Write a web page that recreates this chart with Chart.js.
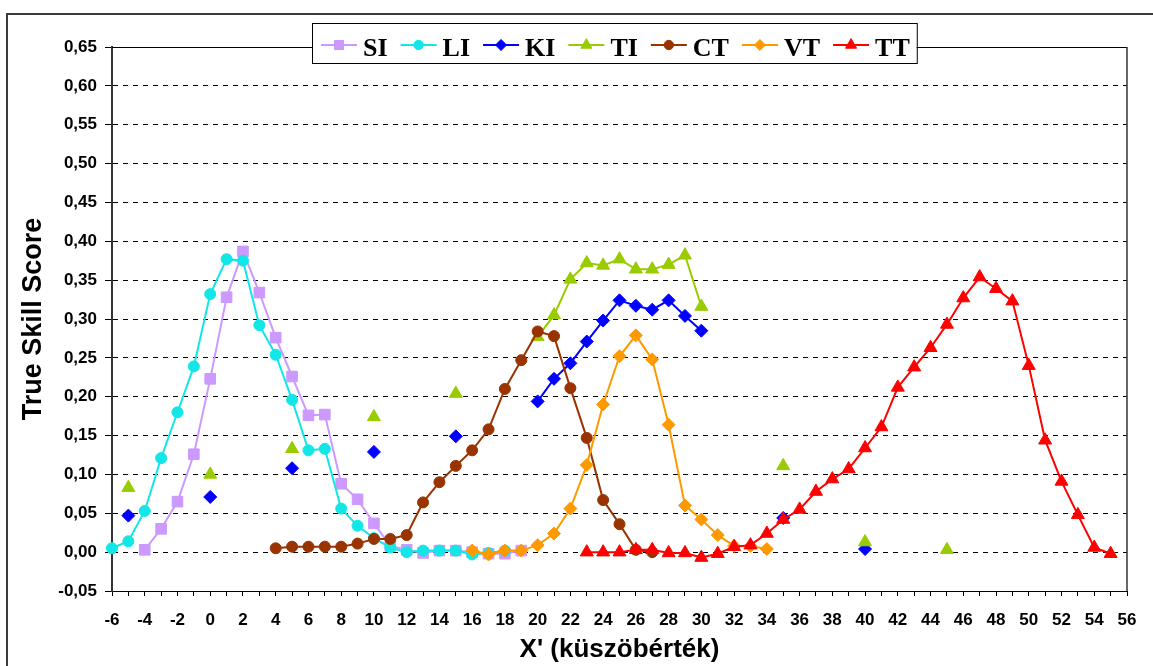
<!DOCTYPE html>
<html>
<head>
<meta charset="utf-8">
<script src="https://cdn.jsdelivr.net/npm/chart.js@4/dist/chart.umd.min.js"></script>
<style>
  html, body { margin:0; padding:0; background:#fff; }
  #wrap { width:1153px; height:666px; position:relative; }
</style>
</head>
<body>
<div id="wrap"><canvas id="c"></canvas></div>
<script>
// x' küszöbérték -> True Skill Score
const siStart = -4;
const siVals = [0.003, 0.030, 0.065, 0.126, 0.223, 0.328, 0.387, 0.334, 0.276, 0.226, 0.176, 0.177,
  0.088, 0.068, 0.037, 0.008, 0.003, -0.001, 0.002, 0.002, 0.000, -0.002, -0.002, 0.002];

const liStart = -6;
const liVals = [0.005, 0.014, 0.053, 0.121, 0.180, 0.239, 0.332, 0.377, 0.375, 0.292, 0.254, 0.196,
  0.131, 0.133, 0.056, 0.034, 0.018, 0.006, 0.000, 0.002, 0.002, 0.002, -0.003, -0.001, 0.002];

const kiX = [-5, 0, 5, 10, 15, 20, 21, 22, 23, 24, 25, 26, 27, 28, 29, 30, 35, 40];
const kiVals = [0.047, 0.071, 0.108, 0.129, 0.149, 0.194, 0.223, 0.243, 0.271, 0.298, 0.324, 0.317,
  0.312, 0.324, 0.304, 0.285, 0.044, 0.004];

const tiX = [-5, 0, 5, 10, 15, 20, 21, 22, 23, 24, 25, 26, 27, 28, 29, 30, 35, 40, 45];
const tiVals = [0.083, 0.100, 0.133, 0.174, 0.204, 0.277, 0.305, 0.351, 0.372, 0.369, 0.377, 0.364,
  0.364, 0.370, 0.382, 0.316, 0.111, 0.013, 0.003];

const ctStart = 4;
const ctVals = [0.005, 0.007, 0.007, 0.007, 0.007, 0.011, 0.017, 0.017, 0.022, 0.064, 0.090, 0.111,
  0.131, 0.158, 0.210, 0.247, 0.284, 0.278, 0.211, 0.147, 0.067, 0.036, 0.003, 0.000];

const vtStart = 16;
const vtVals = [0.002, -0.003, 0.002, 0.002, 0.009, 0.024, 0.056, 0.112, 0.190, 0.252, 0.279, 0.248,
  0.164, 0.060, 0.042, 0.022, 0.008, 0.008, 0.004];

const ttStart = 23;
const ttVals = [0.000, 0.000, 0.000, 0.003, 0.003, -0.001, -0.001, -0.007, -0.002, 0.007, 0.009, 0.024,
  0.042, 0.055, 0.078, 0.094, 0.107, 0.134, 0.161, 0.212, 0.238, 0.263, 0.293, 0.327, 0.354, 0.339,
  0.323, 0.240, 0.144, 0.091, 0.048, 0.006, -0.002];

const seriesNames = ['SI', 'LI', 'KI', 'TI', 'CT', 'VT', 'TT'];
const xMin = -6, xMax = 56;
const yMin = -0.05, yMax = 0.65, yStep = 0.05;

// consecutive run from a start x
function run(start, vals){ return vals.map((v, i) => ({ x: start + i, y: v })); }
// scattered x list: break the line where x jumps
function pts(xs, vals){
  const out = [];
  xs.forEach((x, i) => {
    if (i > 0 && x - xs[i-1] > 1) out.push({ x: (x + xs[i-1]) / 2, y: null });
    out.push({ x, y: vals[i] });
  });
  return out;
}

const styles = [
  { color:'#CC99FF', style:'rect',     r:7.5 },
  { color:'#12E6E6', style:'circle',   r:5.5 },
  { color:'#0000FF', style:'rectRot',  r:6.5 },
  { color:'#99CC00', style:'triangle', r:7.5 },
  { color:'#993300', style:'circle',   r:5.5 },
  { color:'#FF9900', style:'rectRot',  r:6.5 },
  { color:'#FF0000', style:'triangle', r:7.5 }
];
const seriesData = [run(siStart, siVals), run(liStart, liVals), pts(kiX, kiVals), pts(tiX, tiVals),
  run(ctStart, ctVals), run(vtStart, vtVals), run(ttStart, ttVals)];

const datasets = seriesNames.map((n, i) => ({
  label: n, data: seriesData[i],
  borderColor: styles[i].color, backgroundColor: styles[i].color,
  pointBorderColor: styles[i].color, pointBackgroundColor: styles[i].color,
  borderWidth: 2, pointStyle: styles[i].style, pointRadius: styles[i].r, pointBorderWidth: 1,
  tension: 0, spanGaps: false, clip: false, order: seriesNames.length - i
}));

const SANS = '"Liberation Sans", Arial, sans-serif';

// plot frame (top + right) and the outer chart border
const framePlugin = {
  id: 'frame',
  beforeDatasetsDraw(chart){
    const { ctx, chartArea: a } = chart;
    ctx.save();
    ctx.strokeStyle = '#000'; ctx.lineWidth = 1;
    ctx.beginPath(); ctx.moveTo(a.left, a.top + 0.5); ctx.lineTo(a.right, a.top + 0.5); ctx.stroke();
    ctx.strokeStyle = '#333'; ctx.lineWidth = 1.5;
    ctx.beginPath(); ctx.moveTo(a.right, a.top); ctx.lineTo(a.right, a.bottom); ctx.stroke();
    ctx.strokeStyle = '#3a3a3a'; ctx.lineWidth = 2;
    ctx.beginPath(); ctx.moveTo(7, 700); ctx.lineTo(7, 14); ctx.lineTo(1170, 14); ctx.stroke();
    ctx.restore();
  }
};

// Excel-like legend: line sample with marker, serif bold names
const legendPlugin = {
  id: 'xlLegend',
  afterDraw(chart){
    const ctx = chart.ctx;
    ctx.save();
    ctx.font = 'bold 26px "Liberation Serif", "Times New Roman", serif';
    const sample = 36, gapTxt = 6, gapItem = 13, padL = 9, padR = 7;
    const widths = seriesNames.map(n => ctx.measureText(n).width);
    let W = padL + padR;
    widths.forEach((w, i) => { W += sample + gapTxt + w + (i < widths.length - 1 ? gapItem : 0); });
    const bx = Math.round(614 - W / 2), by = 23.5, bh = 40;
    ctx.fillStyle = '#fff'; ctx.fillRect(bx, by, W, bh);
    ctx.strokeStyle = '#000'; ctx.lineWidth = 1; ctx.strokeRect(bx + 0.5, by, W, bh);
    let x = bx + padL;
    const cy = 45;
    seriesNames.forEach((n, i) => {
      const st = styles[i];
      ctx.strokeStyle = st.color; ctx.lineWidth = 2;
      ctx.beginPath(); ctx.moveTo(x, cy); ctx.lineTo(x + sample, cy); ctx.stroke();
      ctx.fillStyle = st.color; ctx.lineWidth = 1;
      Chart.helpers.drawPoint(ctx, { pointStyle: st.style, radius: st.r * 0.85, borderWidth: 1, rotation: 0 }, x + sample / 2, cy);
      x += sample + gapTxt;
      ctx.fillStyle = '#000'; ctx.textBaseline = 'alphabetic'; ctx.textAlign = 'left';
      ctx.fillText(n, x, 55.5);
      x += widths[i] + gapItem;
    });
    ctx.restore();
  }
};

new Chart(document.getElementById('c'), {
  type: 'line',
  data: { datasets },
  options: {
    responsive: true, maintainAspectRatio: false, animation: false,
    parsing: true,
    layout: { padding: { left: 0, top: 47, right: 26, bottom: 0 } },
    plugins: { legend: { display: false }, tooltip: { enabled: false } },
    scales: {
      x: {
        type: 'linear', min: xMin, max: xMax,
        afterFit: s => { s.height = 75; },
        ticks: {
          stepSize: 1, autoSkip: false, maxRotation: 0, padding: 14, color: '#000',
          font: { family: SANS, size: 17, weight: 'bold' },
          callback: v => (v % 2 === 0 ? String(v) : '')
        },
        grid: { drawOnChartArea: false, drawTicks: true, tickLength: 5, tickColor: '#000', color: '#000' },
        border: { display: true, color: '#000', width: 1 },
        title: { display: true, text: "X' (küszöbérték)", color: '#000',
          font: { family: SANS, size: 26, weight: 'bold' }, padding: { top: 0, bottom: 1 } }
      },
      y: {
        type: 'linear', min: yMin, max: yMax,
        afterFit: s => { s.width = 112; },
        ticks: {
          stepSize: yStep, padding: 8, color: '#000',
          font: { family: SANS, size: 17, weight: 'bold' },
          callback: v => v.toFixed(2).replace('.', ',')
        },
        grid: { color: '#000', lineWidth: 1, tickLength: 7, tickColor: '#000', tickBorderDash: [] },
        border: { display: true, color: '#333', width: 2, dash: [5, 5] },
        title: { display: true, text: 'True Skill Score', color: '#000',
          font: { family: SANS, size: 27, weight: 'bold' }, padding: { top: 17, bottom: 0 } }
      }
    }
  },
  plugins: [framePlugin, legendPlugin]
});
</script>
</body>
</html>
